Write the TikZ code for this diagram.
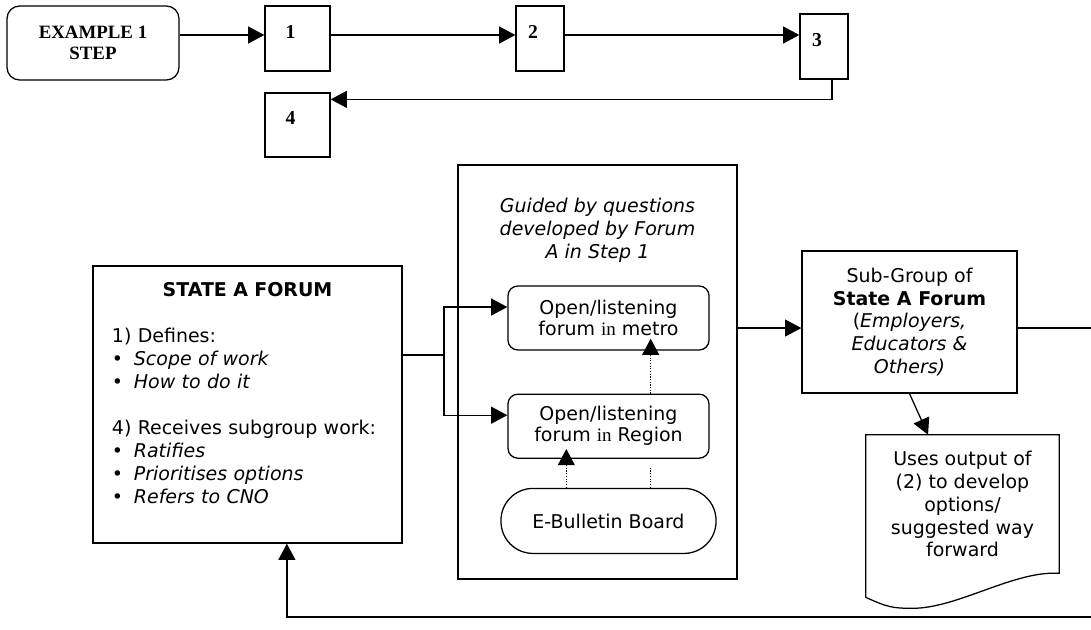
\documentclass[tikz,border=0pt]{standalone}
\usepackage{fontspec}
\setmainfont{DejaVu Sans}
\newfontfamily\tnr{Liberation Serif}
\usetikzlibrary{arrows.meta,positioning,calc}
\newcommand{\bodyfont}{\fontsize{13.5}{16.3}\selectfont}
\newcommand{\stepnum}[1]{\makebox[17pt][l]{\smash{#1}}}
\newcommand{\bitem}[1]{\makebox[15.6pt][l]{\textbullet}\textit{#1}}

\begin{document}
\begin{tikzpicture}[x=0.025cm,y=-0.025cm,
      arr/.style={-{Triangle[length=11.5pt,width=12pt]},line width=0.9pt},
      dotarr/.style={arr,densely dotted},
      exbox/.style={draw,rounded corners=9pt,line width=0.9pt,minimum width=4.3cm,minimum height=1.85cm,
                    align=center,font=\tnr\bfseries\fontsize{13.4}{15}\selectfont},
      stepbox/.style={draw,line width=0.9pt,inner sep=0pt,font=\tnr\bfseries\fontsize{14}{15}\selectfont},
      plainbox/.style={draw,line width=0.9pt,font=\bodyfont},
      listenbox/.style={draw,rounded corners=7pt,line width=0.9pt,minimum width=5.025cm,minimum height=1.6cm,
                    align=center,font=\fontsize{13.5}{15}\selectfont},
      note/.style={align=center,font=\bodyfont}
    ]
    \useasboundingbox (0,0) rectangle (1091,630);

    % example row
    \node[exbox] (ex) at (93,43) {EXAMPLE 1\\STEP};
    \node[stepbox,minimum width=1.625cm,minimum height=1.625cm] (s1) at (297.5,38.5) {\stepnum{1}};
    \node[stepbox,minimum width=1.2cm,minimum height=1.625cm] (s2) at (540,38.5) {\stepnum{2}};
    \node[stepbox,minimum width=1.2cm,minimum height=1.625cm] (s3) at (824,46.5) {\stepnum{3}};
    \node[stepbox,minimum width=1.625cm,minimum height=1.6cm] (s4) at (297.5,125) {\stepnum{4}};
    \coordinate (rowy) at (0,35);

    \draw[arr] (ex.east |- rowy) -- (s1.west |- rowy);
    \draw[arr] (s1.east |- rowy) -- (s2.west |- rowy);
    \draw[arr] (s2.east |- rowy) -- (s3.west |- rowy);
    \draw[arr] ([xshift=5.7pt]s3.south) |- ([yshift=-5pt]s4.north east);

    % forum
    \node[plainbox,minimum width=7.725cm,minimum height=6.925cm,text width=6.775cm,align=left] (state)
          at (247.5,404.5)
          {\makebox[\linewidth]{\bfseries STATE A FORUM}\\[16.3pt]
           1) Defines:\\ \bitem{Scope of work}\\ \bitem{How to do it}\\[16.3pt]
           4) Receives subgroup work:\\ \bitem{Ratifies}\\ \bitem{Prioritises options}\\
           \bitem{Refers to CNO}\\ \mbox{}};

    \node[plainbox,minimum width=6.975cm,minimum height=10.35cm] (panel) at (597.5,372) {};
    \node[note,font=\bodyfont\itshape,inner sep=0pt,below=24pt of panel.north] (guided)
          {Guided by questions\\developed by Forum\\A in Step 1};
    \node[listenbox] (metro) at (608.5,318) {Open/listening\\forum {\tnr in} metro};
    \node[listenbox,below=30.5pt of metro] (region) {Open/listening\\forum {\tnr in} Region};
    \node[plainbox,rounded corners=0.8cm,minimum width=5.375cm,minimum height=1.625cm,
          below=20.6pt of region] (bulletin) {E-Bulletin Board};

    \node[plainbox,minimum width=5.375cm,minimum height=3.55cm,align=center] (sub) at (909.5,322)
          {Sub-Group of\\\textbf{State A Forum}\\(\textit{Employers,}\\\textit{Educators \&}\\\textit{Others)}};
    \node[note,minimum width=4.825cm,minimum height=3.45cm] (doc) at (962.5,504)
          {Uses output of\\(2) to develop\\options/\\suggested way\\forward};
    \draw[line width=0.9pt] ($(doc.south west)+(0,24)$) -- (doc.north west) -- (doc.north east)
          -- (doc.south east) .. controls +(-45,-3) and +(45,0) .. ($(doc.south west)+(47,35)$)
          .. controls +(-20,0) and +(22,10) .. ($(doc.south west)+(0,24)$);

    \coordinate (split) at (444,355);
    \draw[line width=0.9pt] (state.east |- split) -- (split);
    \draw[arr] (split) |- ([yshift=7.8pt]metro.west);
    \draw[arr] (split) |- ([yshift=7.8pt]region.west);

    \draw[dotarr,shorten >=-8.5pt] ([xshift=30pt]region.north) -- ([xshift=30pt]metro.south);
    \draw[dotarr,shorten >=-7pt] ([xshift=-30pt]bulletin.north) -- ([xshift=-30pt]region.south);
    \draw[line width=0.9pt,densely dotted,shorten >=6pt] ([xshift=30pt]bulletin.north) -- ([xshift=30pt]region.south);

    \coordinate (subin) at ([yshift=-4.3pt]sub.west);
    \coordinate (subout) at ([yshift=-4.3pt]sub.east);
    \coordinate (loopR) at (1110,617);
    \draw[arr] (panel.east |- subin) -- (subin);
    \draw[arr] (sub.south) -- ([xshift=-24.5pt]doc.north);
    \draw[arr] (subout) -| (loopR) -| ([xshift=28pt]state.south);
  \end{tikzpicture}
\end{document}
